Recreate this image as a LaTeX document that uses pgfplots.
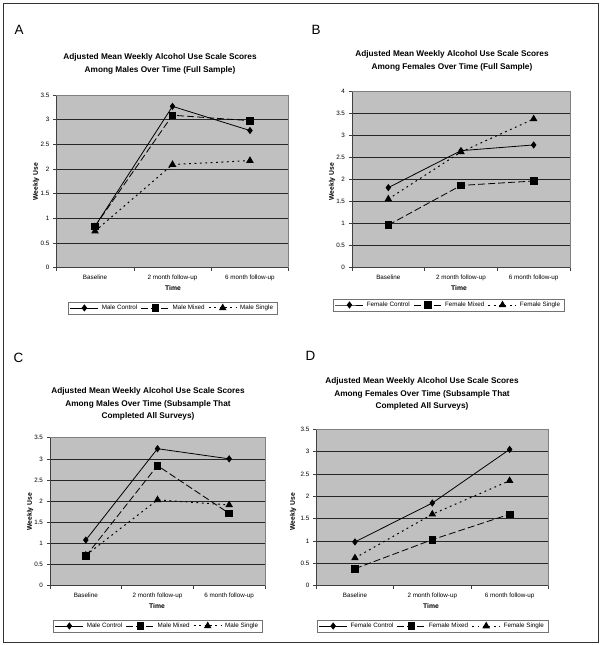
\documentclass[border=0pt]{standalone}
\usepackage{pgfplots}
\pgfplotsset{compat=1.18}
\usepackage{fontspec}
\setmainfont{Liberation Sans}
\definecolor{plotgray}{RGB}{192,192,192}

\pgfplotsset{
  panel/.style={
    scale only axis,
    anchor=south west,
    xmin=0.5, xmax=3.5, ymin=0,
    xtick={0.5,1.5,2.5,3.5},
    x tick label as interval,
    xticklabels={Baseline, 2 month follow-up, 6 month follow-up},
    tick align=outside,
    major tick length=3bp,
    ytick distance=0.5,
    ymajorgrids,
    grid style={black!85, line width=0.5bp},
    axis x line*=bottom, axis y line*=left,
    axis line style={black!75, line width=0.5bp, -},
    tick style={black!75, line width=0.5bp},
    axis background/.style={fill=plotgray},
    /pgf/number format/assume math mode=true,
    tick label style={font=\fontsize{6.3}{7}\selectfont},
    xticklabel style={yshift=-1bp},
    yticklabel style={xshift=-0.5bp},
    legend columns=-1,
    legend cell align=left,
    legend style={draw=black!55, line width=0.4bp, fill=white,
      font=\fontsize{6.3}{7}\selectfont, anchor=center,
      inner xsep=2bp, inner ysep=1bp,
      /tikz/every even column/.append style={column sep=1.5bp},
      /tikz/every odd column/.append style={column sep=1bp}},
    legend image code/.code={\draw[mark repeat=2,mark phase=2,##1] plot coordinates {(0bp,0bp)(14bp,0bp)(28bp,0bp)};},
    after end axis/.code={\draw[black!50, line width=0.5bp] (rel axis cs:0,1) -- (rel axis cs:1,1) -- (rel axis cs:1,0);},
  },
  ctrl/.style={black, line width=0.8bp, mark=diamond*, mark size=3bp, mark options={solid}},
  mixed/.style={black, line width=0.8bp, dash pattern=on 7bp off 3bp, mark=square*, mark size=3.3bp, mark options={solid}},
  single/.style={black, line width=1bp, dash pattern=on 1.8bp off 3.6bp, mark=triangle*, mark size=3.4bp, mark options={solid}},
}
\tikzset{ttl/.style={align=center, font=\fontsize{8.3}{12.6}\selectfont\bfseries}}
\newcommand{\lbl}{\fontsize{6.8}{7}\selectfont\bfseries}
\newcommand{\letter}{\fontsize{13.5}{15}\selectfont}

\begin{document}
\begin{tikzpicture}
\path[use as bounding box] (0,0) rectangle (601bp,645bp);
\draw[line width=0.8bp, black!80] (3bp,3bp) rectangle (598bp,642bp);

% ---------------- Panel A ----------------
\node[anchor=west] at (11bp,615bp) {\letter A};
\node[ttl] at (160bp,581.3bp) {Adjusted Mean Weekly Alcohol Use Scale Scores\\Among Males Over Time (Full Sample)};
\node[rotate=90] at (36bp,463.3bp) {\lbl Weekly Use};
\node at (173bp,357bp) {\lbl Time};
\begin{axis}[panel, at={(56.3bp,377.3bp)}, width=232.4bp, height=172.7bp, ymax=3.5,
  legend style={at={(0.5,-0.233)}}]
\addplot[ctrl] coordinates {(1,0.84) (2,3.27) (3,2.78)};
\addlegendentry{Male Control}
\addplot[mixed] coordinates {(1,0.84) (2,3.09) (3,2.98)};
\addlegendentry{Male Mixed}
\addplot[single] coordinates {(1,0.74) (2,2.09) (3,2.17)};
\addlegendentry{Male Single}
\end{axis}

% ---------------- Panel B ----------------
\node[anchor=west] at (308bp,615bp) {\letter B};
\node[ttl] at (452bp,584bp) {Adjusted Mean Weekly Alcohol Use Scale Scores\\Among Females Over Time (Full Sample)};
\node[rotate=90] at (332bp,463.3bp) {\lbl Weekly Use};
\node at (459bp,357bp) {\lbl Time};
\begin{axis}[panel, at={(352bp,377.3bp)}, width=218bp, height=176bp, ymax=4,
  legend style={at={(0.443,-0.212)}}]
\addplot[ctrl] coordinates {(1,1.82) (2,2.66) (3,2.79)};
\addlegendentry{Female Control}
\addplot[mixed] coordinates {(1,0.97) (2,1.87) (3,1.97)};
\addlegendentry{Female Mixed}
\addplot[single] coordinates {(1,1.56) (2,2.63) (3,3.38)};
\addlegendentry{Female Single}
\end{axis}

% ---------------- Panel C ----------------
\node[anchor=west] at (10bp,287bp) {\letter C};
\node[ttl] at (148bp,240.8bp) {Adjusted Mean Weekly Alcohol Use Scale Scores\\Among Males Over Time (Subsample That\\Completed All Surveys)};
\node[rotate=90] at (30bp,133.3bp) {\lbl Weekly Use};
\node at (157bp,39bp) {\lbl Time};
\begin{axis}[panel, at={(50bp,59.3bp)}, width=215bp, height=148bp, ymax=3.5,
  legend style={at={(0.5,-0.272)}}]
\addplot[ctrl] coordinates {(1,1.08) (2,3.24) (3,3.00)};
\addlegendentry{Male Control}
\addplot[mixed] coordinates {(1,0.70) (2,2.84) (3,1.71)};
\addlegendentry{Male Mixed}
\addplot[single] coordinates {(1,0.72) (2,2.03) (3,1.91)};
\addlegendentry{Male Single}
\end{axis}

% ---------------- Panel D ----------------
\node[anchor=west] at (302bp,289bp) {\letter D};
\node[ttl] at (422bp,251bp) {Adjusted Mean Weekly Alcohol Use Scale Scores\\Among Females Over Time (Subsample That\\Completed All Surveys)};
\node[rotate=90] at (293bp,133.3bp) {\lbl Weekly Use};
\node at (431bp,39.3bp) {\lbl Time};
\begin{axis}[panel, at={(316.3bp,59.3bp)}, width=232bp, height=156.4bp, ymax=3.5,
  legend style={at={(0.5,-0.258)}}]
\addplot[ctrl] coordinates {(1,0.98) (2,1.85) (3,3.05)};
\addlegendentry{Female Control}
\addplot[mixed] coordinates {(1,0.38) (2,1.03) (3,1.60)};
\addlegendentry{Female Mixed}
\addplot[single] coordinates {(1,0.62) (2,1.60) (3,2.35)};
\addlegendentry{Female Single}
\end{axis}
\end{tikzpicture}
\end{document}
